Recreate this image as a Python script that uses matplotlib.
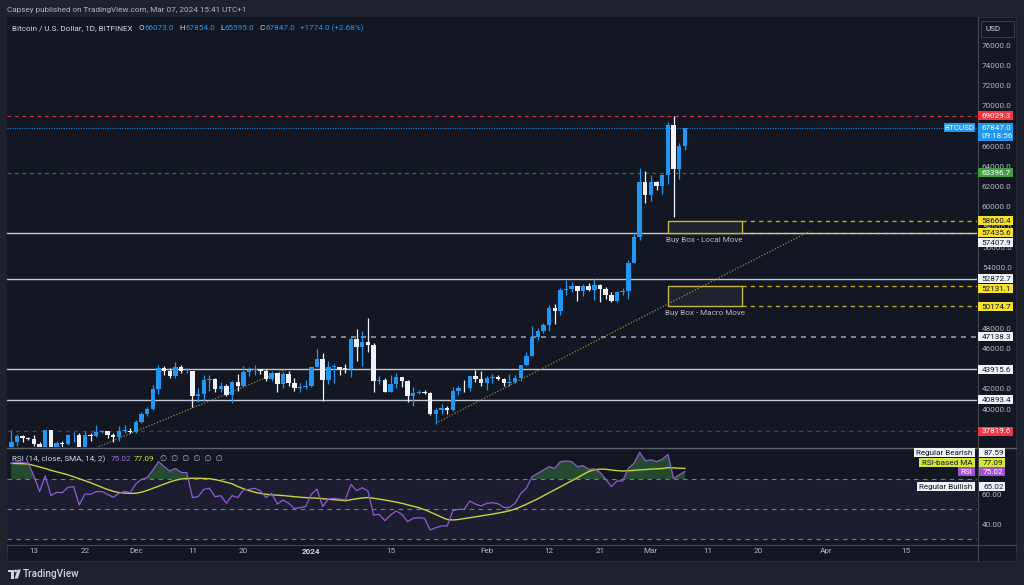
import numpy as np
import pandas as pd
import matplotlib
matplotlib.use("Agg")
import matplotlib.pyplot as plt
from matplotlib.patches import Rectangle, Polygon, Ellipse
from matplotlib.lines import Line2D

plt.rcParams['font.family'] = ['Roboto', 'DejaVu Sans']

# ---------------- data ----------------
dates = pd.date_range("2023-11-09", "2024-03-07", freq="D")

opens = [35630, 36700, 37320, 37140, 37070, 36500, 35550, 37880, 36160, 36600,
         36580, 37380, 37460, 35760, 37420, 37280, 37720, 37790, 37450, 37240,
         37830, 37860, 37710, 38690, 39460, 39970, 41980, 44080, 43770, 43290,
         44170, 43720, 43790, 41240, 41450, 42890, 43020, 41940, 42260, 41370,
         42660, 42270, 43660, 43860, 43990, 43720, 43010, 43580, 42510, 43460,
         42580, 42070, 42140, 42280, 44180, 44950, 42840, 44150, 44160, 43970,
         43930, 46960, 46120, 46650, 46350, 42780, 42850, 41730, 42510, 43150,
         42740, 41260, 41620, 41670, 41580, 39540, 39900, 40100, 39940, 41820,
         42120, 42040, 43300, 42950, 42580, 43080, 43190, 42990, 42580, 42660,
         43090, 44340, 45290, 47130, 47760, 48290, 49960, 49700, 51800, 51900,
         52140, 51640, 52140, 51780, 52280, 51850, 51310, 50730, 51570, 51730,
         54490, 57050, 62490, 61160, 62430, 62030, 63130, 68100, 63800, 66073]
highs = [37950, 37520, 37420, 37240, 37420, 36780, 37950, 37920, 36850, 36850,
         37520, 37750, 37650, 37850, 37650, 38400, 37880, 37830, 37580, 38350,
         38420, 38150, 38950, 39700, 40200, 42400, 44400, 44300, 44040, 44700,
         44350, 44050, 43800, 42100, 43400, 43400, 43100, 42700, 42430, 42750,
         43450, 44250, 44200, 44400, 44000, 43950, 43800, 43600, 43700, 43800,
         43100, 42600, 42900, 44200, 45900, 45500, 44750, 44500, 44200, 44500,
         47250, 47950, 47700, 48970, 46500, 43250, 43100, 43350, 43580, 43200,
         42900, 42200, 41850, 41850, 41680, 40150, 40500, 40300, 42200, 42250,
         42850, 43300, 43850, 43750, 43300, 43450, 43400, 43100, 43500, 43400,
         44400, 45600, 48200, 48000, 48550, 50300, 50350, 52000, 52800, 52600,
         52200, 52350, 52500, 52900, 52350, 52050, 51550, 51700, 51950, 54800,
         57500, 63900, 63600, 63200, 62600, 63250, 68400, 69029, 66300, 67854]
lows = [35540, 36340, 36740, 36900, 36350, 34800, 35370, 35600, 35500, 36200,
        36420, 36700, 35670, 35650, 36880, 37200, 37600, 37150, 36720, 36880,
        37600, 37600, 37620, 38650, 39300, 39950, 41450, 43400, 43100, 43100,
        43600, 43600, 40200, 40680, 40900, 41800, 41700, 41700, 41250, 40550,
        41800, 42200, 43300, 43400, 43500, 42800, 42750, 41650, 42100, 42300,
        41800, 41700, 41950, 42200, 44150, 40750, 42500, 42600, 43400, 43600,
        43200, 44800, 44300, 45600, 41700, 42450, 41700, 41700, 42050, 42200,
        40650, 40250, 41450, 41500, 39430, 38550, 39500, 39500, 39800, 41400,
        41650, 41800, 42700, 42300, 41900, 42600, 42900, 42300, 42300, 42600,
        42800, 44300, 45250, 46850, 47550, 47700, 48400, 49300, 51300, 51600,
        50650, 51200, 51700, 50800, 50600, 50900, 50550, 50600, 51300, 50900,
        54450, 56700, 60400, 60600, 61700, 61300, 62300, 59000, 62800, 65595]
closes = [36700, 37320, 37140, 37070, 36500, 35550, 37880, 36160, 36600, 36580,
          37380, 37460, 35760, 37420, 37280, 37720, 37790, 37450, 37240, 37830,
          37860, 37710, 38690, 39460, 39970, 41980, 44080, 43770, 43290, 44170,
          43720, 43790, 41240, 41450, 42890, 43020, 41940, 42260, 41370, 42660,
          42270, 43660, 43860, 43990, 43720, 43010, 43580, 42510, 43460, 42580,
          42070, 42140, 42280, 44180, 44950, 42840, 44150, 44160, 43970, 43930,
          46960, 46120, 46650, 46350, 42780, 42850, 41730, 42510, 43150, 42740,
          41260, 41620, 41670, 41580, 39540, 39900, 40100, 39940, 41820, 42120,
          42040, 43300, 42950, 42580, 43080, 43190, 42990, 42580, 42660, 43090,
          44340, 45290, 47130, 47760, 48290, 49960, 49700, 51800, 51900, 52140,
          51640, 52140, 51780, 52280, 51850, 51310, 50730, 51570, 51730, 54490,
          57050, 62490, 61160, 62430, 62030, 63130, 68100, 63800, 66073, 67847]

rsi_vals = [80.5, 81.5, 81.0, 80.5, 72.0, 61.6, 72.2, 58.9, 61.1, 60.9,
            64.4, 64.9, 52.7, 60.0, 59.8, 61.6, 61.6, 59.8, 57.8, 60.4,
            61.8, 61.0, 66.7, 69.8, 70.9, 76.0, 81.6, 78.2, 75.3, 77.1,
            74.4, 74.2, 57.6, 58.2, 63.1, 63.8, 58.2, 58.9, 53.8, 58.9,
            57.6, 62.7, 63.1, 63.8, 62.2, 57.6, 60.4, 53.3, 56.0, 53.8,
            50.4, 50.9, 51.6, 59.8, 63.3, 51.6, 56.7, 57.1, 56.7, 56.0,
            66.4, 62.2, 64.2, 62.0, 46.0, 46.4, 42.2, 46.0, 48.7, 46.4,
            41.6, 43.8, 44.2, 43.8, 36.0, 37.6, 38.7, 38.7, 48.9, 49.8,
            49.8, 55.3, 53.3, 52.0, 53.8, 54.2, 53.5, 51.0, 51.0, 53.8,
            60.4, 63.8, 71.6, 73.8, 76.0, 78.2, 77.1, 81.6, 82.0, 81.6,
            78.2, 78.9, 76.4, 76.8, 74.4, 70.0, 64.9, 68.7, 68.7, 77.1,
            80.4, 87.8, 82.2, 82.7, 81.6, 83.1, 86.4, 70.4, 72.7, 75.02]
rsi_ma_vals = [80.4, 80.3, 80.2, 80.0, 79.0, 78.0, 77.0, 75.8, 74.8, 73.8,
               72.8, 71.5, 70.2, 68.9, 67.5, 66.0, 64.5, 63.0, 61.8, 61.0,
               60.6, 60.4, 60.5, 61.2, 62.4, 63.8, 65.2, 66.6, 68.0, 69.2,
               70.0, 70.4, 70.5, 70.5, 70.4, 70.2, 69.6, 68.8, 67.8, 66.8,
               65.0, 63.5, 62.3, 61.2, 60.4, 59.8, 59.5, 59.2, 59.0, 58.6,
               58.2, 57.9, 57.6, 57.4, 57.2, 56.9, 56.5, 56.2, 55.9, 55.5,
               56.2, 56.8, 57.4, 57.6, 57.2, 56.6, 56.0, 55.3, 54.6, 53.8,
               52.8, 51.8, 50.9, 49.5, 48.0, 46.3, 44.6, 43.0, 42.7, 43.0,
               43.6, 44.2, 44.8, 45.4, 46.0, 46.6, 47.3, 48.0, 48.8, 50.0,
               51.5, 53.2, 55.0, 56.8, 58.8, 60.8, 62.8, 64.8, 66.8, 68.8,
               70.8, 73.0, 75.0, 76.2, 76.6, 76.5, 76.0, 75.6, 75.3, 75.5,
               75.8, 76.1, 76.3, 76.6, 76.8, 77.0, 77.6, 77.4, 77.2, 77.09]

# horizontal levels
lvl_red_top = 69029.3
lvl_last = 67847.0
lvl_green = 63396.7
local_box = (57435.6, 58660.4)
macro_box = (50174.7, 52131.1)
white_levels = [57407.9, 52872.7, 43915.6, 40893.4]
lvl_gray = 47138.3
lvl_red_bot = 37819.6
box_start, box_end = "2024-03-04", "2024-03-17"
gray_start = "2024-01-01"
# trend lines (day index, price)
trend1_x, trend1_y = [12.0, 48.7], [35480, 43960]
trend2_x, trend2_y = [75.0, 141.1], [38600, 57625]

# price-scale ticks that are visible (others sit fully under the level tags)
price_ticks = [40000, 42000, 46000, 48000, 54000, 56000, 58000, 60000, 62000,
               64000, 66000, 70000, 72000, 74000, 76000]
rsi_ticks = [40, 60]
tick_dates = ["2023-11-13", "2023-11-22", "2023-12-01", "2023-12-11", "2023-12-20",
              "2024-01-01", "2024-01-15", "2024-02-01", "2024-02-12", "2024-02-21",
              "2024-03-01", "2024-03-11", "2024-03-20", "2024-04-01", "2024-04-15"]
tick_labels = ["13", "22", "Dec", "11", "20", "2024", "15", "Feb", "12", "21",
               "Mar", "11", "20", "Apr", "15"]

# ---------------- style ----------------
W, H = 1024, 585
BG_OUT = '#1e222d'
BG = '#131722'
TXT = '#b2b5be'
TXT2 = '#d1d4dc'
BLUE = '#2196f3'
UPC = '#2196f3'
DNC = '#f0f3fa'
FS = 5.85

fig = plt.figure(figsize=(W / 100, H / 100), dpi=100)
fig.patch.set_facecolor(BG_OUT)
R = fig.canvas.get_renderer()


def prect(x0, y0, x1, y1, **kw):
    r = Rectangle((x0 / W, 1 - y1 / H), (x1 - x0) / W, (y1 - y0) / H,
                  transform=fig.transFigure, **kw)
    fig.add_artist(r)
    return r


def pline(x0, y0, x1, y1, **kw):
    fig.add_artist(Line2D([x0 / W, x1 / W], [1 - y0 / H, 1 - y1 / H],
                          transform=fig.transFigure, **kw))


def ptext(x, y, s, **kw):
    kw.setdefault('fontsize', FS)
    kw.setdefault('va', 'center')
    return fig.text(x / W, 1 - y / H, s, **kw)


# chart panel
prect(6.5, 17, 1016, 561, facecolor=BG, edgecolor='#2a2e39', lw=0.8, zorder=-1)

def day_index(d):
    return (pd.Timestamp(d) - dates[0]).days

x = np.arange(len(dates))
o = np.array(opens, float); c = np.array(closes, float)
hi = np.array(highs, float); lo = np.array(lows, float)
rsi = np.array(rsi_vals); rsi_ma = np.array(rsi_ma_vals)

XL = (-0.76, 170.6)

ax = fig.add_axes([7 / W, 1 - 447 / H, 970 / W, 430 / H])
ax.set_facecolor(BG)
ax.set_xlim(*XL)
ax.set_ylim(36240, 78810)
for s in ax.spines.values():
    s.set_visible(False)
ax.set_xticks([])
ax.yaxis.tick_right()
ax.set_yticks(price_ticks)
ax.set_yticklabels([f"{v:.1f}" for v in price_ticks])
ax.tick_params(axis='y', length=0, pad=3.6, labelsize=FS, labelcolor=TXT)

rax = fig.add_axes([7 / W, 1 - 544 / H, 970 / W, 96 / H])
rax.set_facecolor(BG)
rax.set_xlim(*XL)
rax.set_ylim(26.67, 90.67)
for s in rax.spines.values():
    s.set_visible(False)
rax.yaxis.tick_right()
rax.set_yticks(rsi_ticks)
rax.set_yticklabels([f"{v:.2f}" for v in rsi_ticks])
rax.tick_params(axis='y', length=0, pad=3.6, labelsize=FS, labelcolor=TXT)
rax.set_xticks([day_index(d) for d in tick_dates])
rax.set_xticklabels(tick_labels)
rax.tick_params(axis='x', length=0, pad=3.1, labelsize=FS, labelcolor=TXT)
for t in rax.get_xticklabels():
    if t.get_text() == "2024":
        t.set_fontweight('bold')
        t.set_color(TXT2)

# ---------- price pane ----------
ax.axhline(lvl_red_top, color='#f23645', lw=0.9, ls=(0, (3, 3)), alpha=0.85, zorder=1)
ax.axhline(lvl_last, color=BLUE, lw=0.8, ls=(0, (1, 1.2)), alpha=0.9, zorder=1)
ax.axhline(lvl_green, color='#4caf50', lw=0.9, ls=(0, (3, 3)), alpha=0.6, zorder=1)
for lv in white_levels:
    ax.axhline(lv, color='#d1d4dc', lw=1.0, alpha=0.95, zorder=1)
ax.hlines(lvl_gray, day_index(gray_start), XL[1], color='#9598a1', lw=1.2,
          linestyles=[(0, (3, 3))], zorder=1)
ax.axhline(lvl_red_bot, color='#f23645', lw=1.0, ls=(0, (3, 3)), alpha=0.5, zorder=1)

bx0, bx1 = day_index(box_start), day_index(box_end)
for lo_v, hi_v in (local_box, macro_box):
    ax.add_patch(Rectangle((bx0, lo_v), bx1 - bx0, hi_v - lo_v, facecolor='#1e222d',
                           edgecolor='#c9b43a', lw=1.0, zorder=2))
    for lv in (lo_v, hi_v):
        ax.hlines(lv, bx1, XL[1], color='#d8c233', lw=1.0, linestyles=[(0, (3, 3))],
                  alpha=0.85, zorder=2)
ax.annotate("Buy Box - Local Move", xy=((bx0 + bx1) / 2, local_box[0]),
            xytext=(0, -5.4), textcoords='offset points', ha='center', va='center',
            fontsize=FS, color=TXT, zorder=3)
ax.annotate("Buy Box - Macro Move", xy=((bx0 + bx1) / 2, macro_box[0]),
            xytext=(0, -4.8), textcoords='offset points', ha='center', va='center',
            fontsize=FS, color=TXT, zorder=3)

ax.plot(trend1_x, trend1_y, color='#a39d45', lw=0.9, ls=(0, (1, 1.4)), alpha=0.85, zorder=2)
ax.plot(trend2_x, trend2_y, color='#a39d45', lw=0.9, ls=(0, (1, 1.4)), alpha=0.85, zorder=2)

# candles
up = c >= o
col = np.where(up, UPC, DNC)
ax.vlines(x, lo, hi, colors=list(col), lw=0.9, zorder=3)
ax.bar(x, np.maximum(np.abs(c - o), 90), bottom=np.minimum(o, c), width=0.78,
       color=list(col), linewidth=0, zorder=4)

# ---------- RSI pane ----------
rax.axhspan(30, 70, color='#7e57c2', alpha=0.1, lw=0, zorder=0)
for lv in (70, 50, 30):
    rax.axhline(lv, color='#787b86', lw=0.8, ls=(0, (4, 4)), zorder=1)
rax.fill_between(x, rsi, 70, where=rsi >= 70, interpolate=True, color='#3a8c47',
                 alpha=0.45, lw=0, zorder=1)
rax.plot(x, rsi_ma, color='#c8d438', lw=1.0, zorder=3)
rax.plot(x, rsi, color='#8e5bd0', lw=0.9, zorder=3)

# ---------- frame lines ----------
pline(7, 447.5, 1016, 447.5, color='#5d606b', lw=1.0)
pline(7, 544.5, 1016, 544.5, color='#434651', lw=0.8)
pline(977.5, 17, 977.5, 561, color='#434651', lw=0.8)


# ---------- price scale tags ----------
def scale_tag(axis, val, text, bg, fg, dy=0.0, h=9.0, x0=977.5, x1=1013.0):
    yd = axis.transData.transform((0, val))[1]
    yc = H - yd + dy
    prect(x0, yc - h / 2, x1, yc + h / 2, facecolor=bg, edgecolor='none', zorder=5)
    ptext(x0 + 4.0, yc + 0.3, text, color=fg, ha='left', zorder=6)
    return yc


def left_tag(axis, val, text, bg, fg, dy=0.0, h=8.5, xr=975.0, padx=2.5):
    yd = axis.transData.transform((0, val))[1]
    yc = H - yd + dy
    t = ptext(xr - padx, yc + 0.3, text, color=fg, ha='right', zorder=6)
    bb = t.get_window_extent(R)
    prect(bb.x0 - padx, yc - h / 2, xr, yc + h / 2, facecolor=bg, edgecolor='none', zorder=5)


DARK = '#131722'
YEL = '#f5e12e'
WHT = '#f0f3fa'
scale_tag(ax, lvl_red_top, f"{lvl_red_top:.1f}", '#f23645', 'white')
yd = ax.transData.transform((0, lvl_last))[1]
yc = H - yd
prect(977.5, yc - 4.6, 1013, yc + 13.2, facecolor=BLUE, edgecolor='none', zorder=5)
ptext(981.5, yc + 0.3, f"{lvl_last:.1f}", color='white', ha='left', zorder=6)
ptext(981.5, yc + 8.2, "09:18:56", color='white', ha='left', zorder=6)
prect(943.5, yc - 4.3, 975, yc + 4.3, facecolor=BLUE, edgecolor='none', zorder=5)
ptext(959.2, yc + 0.3, "BTCUSD", color='white', ha='center', zorder=6)

scale_tag(ax, lvl_green, f"{lvl_green:.1f}", '#43a047', 'white')
scale_tag(ax, local_box[1], f"{local_box[1]:.1f}", YEL, DARK)
scale_tag(ax, local_box[0], f"{local_box[0]:.1f}", YEL, DARK)
scale_tag(ax, white_levels[0], f"{white_levels[0]:.1f}", WHT, DARK, dy=9.5)
scale_tag(ax, white_levels[1], f"{white_levels[1]:.1f}", WHT, DARK)
scale_tag(ax, macro_box[1], f"{macro_box[1]:.1f}", YEL, DARK, dy=2.0)
scale_tag(ax, macro_box[0], f"{macro_box[0]:.1f}", YEL, DARK)
scale_tag(ax, lvl_gray, f"{lvl_gray:.1f}", WHT, DARK)
scale_tag(ax, white_levels[2], f"{white_levels[2]:.1f}", WHT, DARK)
scale_tag(ax, white_levels[3], f"{white_levels[3]:.1f}", WHT, DARK)
scale_tag(ax, lvl_red_bot, f"{lvl_red_bot:.1f}", '#f23645', 'white')

# RSI tags
LIME = '#d4e83a'
PURP = '#a052d0'
rsi_bear, rsi_bull = 87.59, 65.02
rsi_last, ma_last = rsi_vals[-1], rsi_ma_vals[-1]
left_tag(rax, rsi_bear, "Regular Bearish", WHT, DARK)
scale_tag(rax, rsi_bear, f"{rsi_bear:.2f}", WHT, DARK, x0=979, x1=1005, h=8.5)
left_tag(rax, ma_last, "RSI-based MA", LIME, DARK, dy=-6.0)
scale_tag(rax, ma_last, f"{ma_last:.2f}", LIME, DARK, dy=-6.0, x0=979, x1=1005, h=8.5)
left_tag(rax, rsi_last, "RSI", PURP, 'white')
scale_tag(rax, rsi_last, f"{rsi_last:.2f}", PURP, 'white', x0=979, x1=1005, h=8.5)
left_tag(rax, rsi_bull, "Regular Bullish", WHT, DARK)
scale_tag(rax, rsi_bull, f"{rsi_bull:.2f}", WHT, DARK, x0=979, x1=1005, h=8.5)

# USD box
prect(980.5, 21, 1013.5, 37, facecolor=BG, edgecolor='#363a45', lw=0.8, zorder=5)
ptext(985, 29.3, "USD", color=TXT2, ha='left', zorder=6)


# ---------- header texts ----------
def seq(x0, y, parts, fs=FS):
    xx = x0
    for item in parts:
        if isinstance(item, (int, float)):
            xx += item
            continue
        s, colr = item
        t = ptext(xx, y, s, color=colr, ha='left', fontsize=fs, zorder=6)
        xx = t.get_window_extent(R).x1


ptext(7, 10, "Capsey published on TradingView.com, Mar 07, 2024 15:41 UTC+1",
      color=TXT, ha='left')
seq(12, 28, [("Bitcoin / U.S. Dollar, 1D, BITFINEX", TXT2), 6,
             ("O", TXT2), 0.5, ("66073.0", BLUE), 5,
             ("H", TXT2), 0.5, ("67854.0", BLUE), 5,
             ("L", TXT2), 0.5, ("65595.0", BLUE), 5,
             ("C", TXT2), 0.5, ("67847.0", BLUE), 5,
             ("+1774.0 (+2.68%)", BLUE)])
seq(12, 459, [("RSI (14, close, SMA, 14, 2)", TXT2), 5,
              (f"{rsi_last:.2f}", '#9c6ade'), 3,
              (f"{ma_last:.2f}", '#cddc39'), 5,
              ("\u2205  \u2205  \u2205  \u2205  \u2205  \u2205", TXT)])

# ---------- TradingView logo ----------
LOGO = '#d1d4dc'
prect(7.5, 569.5, 13.8, 572.3, facecolor=LOGO, edgecolor='none')
prect(10.6, 569.5, 13.8, 578.5, facecolor=LOGO, edgecolor='none')
fig.add_artist(Ellipse((15.6 / W, 1 - 571.0 / H), 2.8 / W, 2.8 / H,
                       transform=fig.transFigure, facecolor=LOGO, edgecolor='none'))
fig.add_artist(Polygon([(17.6 / W, 1 - 569.5 / H), (20.8 / W, 1 - 569.5 / H),
                        (17.8 / W, 1 - 578.5 / H), (14.6 / W, 1 - 578.5 / H)],
                       closed=True, transform=fig.transFigure, facecolor=LOGO,
                       edgecolor='none'))
ptext(22.5, 574, "TradingView", color=LOGO, ha='left', fontsize=7.2, fontweight='medium')

fig.savefig("out.png", dpi=100, facecolor=fig.get_facecolor())
